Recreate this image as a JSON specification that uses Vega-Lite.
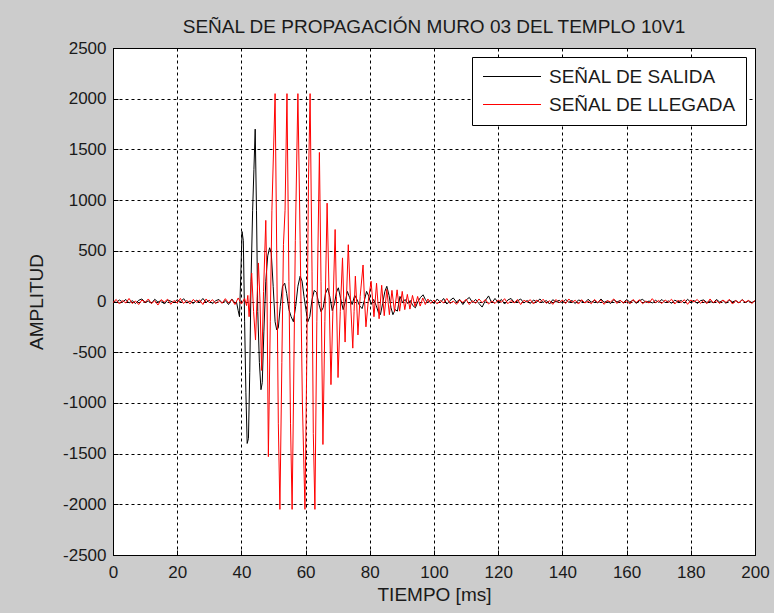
{
  "$schema": "https://vega.github.io/schema/vega-lite/v6.json",
  "width": 642,
  "height": 507,
  "autosize": "none",
  "padding": {"left": 113, "top": 48, "right": 19, "bottom": 58},
  "background": "#cccccc",
  "title": {"text": "SEÑAL DE PROPAGACIÓN MURO 03 DEL TEMPLO 10V1", "font": "Liberation Sans", "fontSize": 19, "fontWeight": "normal", "color": "#1a1a1a", "offset": 2, "anchor": "middle"},
  "config": {
    "view": {"fill": "white", "stroke": "black", "strokeWidth": 1},
    "axis": {"domain": false, "grid": true, "gridColor": "black", "gridDash": [3, 3], "gridOpacity": 1, "gridWidth": 1, "ticks": true, "tickColor": "black", "tickSize": -5, "labelFont": "Liberation Sans", "labelFontSize": 17, "labelColor": "#1a1a1a", "titleFont": "Liberation Sans", "titleFontSize": 19, "titleFontWeight": "normal", "titleColor": "#1a1a1a", "labelFlush": false, "labelOverlap": false, "labelExpr": "datum.value + ''"}
  },
  "layer": [
    {
      "data": {"values": [
        {"t":0,"a":5},{"t":1,"a":-10},{"t":2,"a":15},{"t":3,"a":-5},{"t":4,"a":20},{"t":5,"a":-15},{"t":6,"a":8},{"t":7,"a":-20},{"t":8,"a":12},{"t":9,"a":25},{"t":10,"a":-8},{"t":11,"a":5},{"t":12,"a":-18},{"t":13,"a":22},{"t":14,"a":-6},{"t":15,"a":10},{"t":16,"a":-25},{"t":17,"a":15},{"t":18,"a":3},{"t":19,"a":-12},{"t":20,"a":18},{"t":21,"a":-4},{"t":22,"a":28},{"t":23,"a":-15},{"t":24,"a":6},{"t":25,"a":-20},{"t":26,"a":14},{"t":27,"a":-8},{"t":28,"a":30},{"t":29,"a":-10},{"t":30,"a":12},{"t":31,"a":-22},{"t":32,"a":8},{"t":33,"a":20},{"t":34,"a":-14},{"t":35,"a":10},{"t":36,"a":-30},{"t":37,"a":25},{"t":38,"a":-15},
        {"t":38.5,"a":-10},{"t":39.0,"a":-90},{"t":39.4,"a":-150},{"t":39.8,"a":250},{"t":40.2,"a":690},{"t":40.6,"a":600},{"t":41.0,"a":-200},{"t":41.4,"a":-900},{"t":41.8,"a":-1400},{"t":42.2,"a":-1350},{"t":42.6,"a":-700},{"t":43.0,"a":200},{"t":43.5,"a":900},{"t":43.9,"a":1300},{"t":44.3,"a":1700},{"t":44.7,"a":900},{"t":45.1,"a":-100},{"t":45.6,"a":-600},{"t":46.1,"a":-870},{"t":46.5,"a":-800},{"t":47.0,"a":-300},{"t":47.6,"a":200},{"t":48.2,"a":450},{"t":48.8,"a":530},{"t":49.3,"a":480},{"t":49.9,"a":150},{"t":50.5,"a":-200},{"t":51.0,"a":-280},{"t":51.5,"a":-260},{"t":52.1,"a":-50},{"t":52.8,"a":150},{"t":53.5,"a":180},{"t":54.1,"a":80},{"t":54.8,"a":-80},{"t":55.5,"a":-150},{"t":56.2,"a":-200},{"t":56.9,"a":-50},{"t":57.6,"a":150},{"t":58.3,"a":250},{"t":58.9,"a":200},{"t":59.5,"a":50},{"t":60.1,"a":-80},{"t":60.7,"a":-200},{"t":61.3,"a":-150},{"t":62.0,"a":20},{"t":62.7,"a":110},{"t":63.4,"a":90},{"t":64.1,"a":-20},{"t":64.8,"a":-100},{"t":65.5,"a":-60},{"t":66.2,"a":80},{"t":66.9,"a":130},{"t":67.6,"a":40},{"t":68.3,"a":-90},{"t":69.0,"a":-20},{"t":69.6,"a":90},{"t":70.2,"a":135},{"t":70.9,"a":30},{"t":71.7,"a":-80},{"t":72.4,"a":0},{"t":73.0,"a":100},{"t":73.7,"a":40},{"t":74.5,"a":-30},{"t":75.3,"a":60},{"t":76.0,"a":20},{"t":76.8,"a":-40},{"t":77.6,"a":-70},{"t":78.3,"a":10},{"t":79.0,"a":100},{"t":79.7,"a":50},{"t":80.4,"a":-30},{"t":81.2,"a":20},{"t":82.0,"a":-40},{"t":82.7,"a":-110},{"t":83.3,"a":-130},{"t":84.0,"a":-20},{"t":84.7,"a":100},{"t":85.3,"a":150},{"t":86.0,"a":60},{"t":86.6,"a":-60},{"t":87.2,"a":-130},{"t":87.9,"a":-80},{"t":88.6,"a":-95},{"t":89.4,"a":50},{"t":90.2,"a":-10},{"t":91.0,"a":20},{"t":91.8,"a":-20},{"t":92.6,"a":10},{"t":93.4,"a":-40},{"t":94.2,"a":-62},{"t":95.0,"a":0},{"t":95.8,"a":40},{"t":96.6,"a":66},{"t":97.3,"a":20},{"t":98.0,"a":-10},{"t":99,"a":15},
        {"t":100,"a":-20},{"t":101,"a":25},{"t":102,"a":-10},{"t":103,"a":30},{"t":104,"a":-25},{"t":105,"a":10},{"t":106,"a":35},{"t":107,"a":-5},{"t":108,"a":20},{"t":109,"a":-30},{"t":110,"a":15},{"t":111,"a":40},{"t":112,"a":-10},{"t":113,"a":20},{"t":114,"a":-20},{"t":115,"a":-55},{"t":116,"a":10},{"t":117,"a":55},{"t":118,"a":-15},{"t":119,"a":30},{"t":120,"a":-10},{"t":121,"a":20},{"t":122,"a":-25},{"t":123,"a":15},{"t":124,"a":30},{"t":125,"a":-10},{"t":126,"a":5},{"t":127,"a":25},{"t":128,"a":-15},{"t":129,"a":10},{"t":130,"a":-20},{"t":131,"a":15},{"t":132,"a":-5},{"t":133,"a":25},{"t":134,"a":-10},{"t":135,"a":10},{"t":136,"a":-25},{"t":137,"a":18},{"t":138,"a":-5},{"t":139,"a":12},{"t":140,"a":-15},{"t":141,"a":20},{"t":142,"a":-8},{"t":143,"a":10},{"t":144,"a":-20},{"t":145,"a":15},{"t":146,"a":5},{"t":147,"a":-12},{"t":148,"a":22},{"t":149,"a":-6},{"t":150,"a":10},{"t":151,"a":-15},{"t":152,"a":25},{"t":153,"a":-8},{"t":154,"a":5},{"t":155,"a":-20},{"t":156,"a":18},{"t":157,"a":-5},{"t":158,"a":10},{"t":159,"a":-14},{"t":160,"a":20},{"t":161,"a":-6},{"t":162,"a":12},{"t":163,"a":-18},{"t":164,"a":8},{"t":165,"a":22},{"t":166,"a":-10},{"t":167,"a":5},{"t":168,"a":-15},{"t":169,"a":12},{"t":170,"a":-8},{"t":171,"a":20},{"t":172,"a":-12},{"t":173,"a":6},{"t":174,"a":-18},{"t":175,"a":14},{"t":176,"a":-4},{"t":177,"a":10},{"t":178,"a":-16},{"t":179,"a":22},{"t":180,"a":-8},{"t":181,"a":12},{"t":182,"a":-20},{"t":183,"a":8},{"t":184,"a":15},{"t":185,"a":-10},{"t":186,"a":5},{"t":187,"a":-14},{"t":188,"a":20},{"t":189,"a":-6},{"t":190,"a":10},{"t":191,"a":-18},{"t":192,"a":14},{"t":193,"a":-4},{"t":194,"a":8},{"t":195,"a":-12},{"t":196,"a":18},{"t":197,"a":-8},{"t":198,"a":6},{"t":199,"a":-10},{"t":200,"a":5}
      ]},
      "mark": {"type": "line", "strokeWidth": 1, "clip": true},
      "encoding": {
        "x": {"field": "t", "type": "quantitative", "scale": {"domain": [0, 200], "nice": false}, "axis": {"title": "TIEMPO [ms]", "values": [0,20,40,60,80,100,120,140,160,180,200], "labelPadding": 14, "titlePadding": 5}},
        "y": {"field": "a", "type": "quantitative", "scale": {"domain": [-2500, 2500], "nice": false}, "axis": {"title": "AMPLITUD", "values": [-2500,-2000,-1500,-1000,-500,0,500,1000,1500,2000,2500], "labelPadding": 12, "titlePadding": 16}},
        "color": {"datum": "SEÑAL DE SALIDA", "type": "nominal", "scale": {"domain": ["SEÑAL DE SALIDA", "SEÑAL DE LLEGADA"], "range": ["black", "#ff0000"]}, "legend": {"orient": "top-right", "offset": 9, "title": null, "symbolType": "stroke", "symbolSize": 3364, "symbolStrokeWidth": 1.2, "clipHeight": 19, "labelFont": "Liberation Sans", "labelFontSize": 19, "labelColor": "#1a1a1a", "labelOffset": 7, "fillColor": "white", "strokeColor": "black", "padding": 10, "rowPadding": 8, "labelLimit": 300}}
      }
    },
    {
      "data": {"values": [
        {"t":0,"a":-10},{"t":1,"a":20},{"t":2,"a":-25},{"t":3,"a":10},{"t":4,"a":-15},{"t":5,"a":30},{"t":6,"a":-20},{"t":7,"a":5},{"t":8,"a":-30},{"t":9,"a":15},{"t":10,"a":-10},{"t":11,"a":25},{"t":12,"a":-20},{"t":13,"a":8},{"t":14,"a":-35},{"t":15,"a":18},{"t":16,"a":-5},{"t":17,"a":22},{"t":18,"a":-28},{"t":19,"a":10},{"t":20,"a":-15},{"t":21,"a":30},{"t":22,"a":-20},{"t":23,"a":12},{"t":24,"a":-25},{"t":25,"a":20},{"t":26,"a":-8},{"t":27,"a":15},{"t":28,"a":-30},{"t":29,"a":25},{"t":30,"a":-12},{"t":31,"a":18},{"t":32,"a":-22},{"t":33,"a":10},{"t":34,"a":-18},{"t":35,"a":28},{"t":36,"a":-15},{"t":37,"a":20},{"t":38,"a":-30},{"t":39,"a":35},{"t":40,"a":-25},{"t":41,"a":30},{"t":41.6,"a":-40},
        {"t":42.0,"a":60},{"t":42.4,"a":-150},{"t":43.2,"a":280},{"t":43.8,"a":-100},{"t":44.4,"a":-380},{"t":44.9,"a":50},{"t":45.3,"a":380},{"t":45.8,"a":0},{"t":46.3,"a":-680},{"t":46.9,"a":100},{"t":47.6,"a":800},{"t":48.0,"a":0},{"t":48.4,"a":-1530},{"t":49.0,"a":-200},{"t":49.5,"a":900},{"t":50.5,"a":2050},{"t":51.0,"a":500},{"t":51.5,"a":-1200},{"t":52.0,"a":-2050},{"t":52.6,"a":-600},{"t":53.1,"a":560},{"t":53.6,"a":900},{"t":54.2,"a":2050},{"t":54.8,"a":200},{"t":55.3,"a":-1200},{"t":55.8,"a":-2050},{"t":56.2,"a":-1050},{"t":56.8,"a":600},{"t":57.6,"a":2050},{"t":58.3,"a":600},{"t":59.0,"a":-1000},{"t":59.8,"a":-2050},{"t":60.4,"a":-500},{"t":60.9,"a":1200},{"t":61.4,"a":2050},{"t":62.0,"a":300},{"t":62.4,"a":-1300},{"t":62.9,"a":-2050},{"t":63.5,"a":-200},{"t":64.3,"a":1470},{"t":64.8,"a":200},{"t":65.4,"a":-1410},{"t":66.0,"a":-200},{"t":66.7,"a":970},{"t":67.3,"a":100},{"t":67.9,"a":-820},{"t":68.5,"a":-100},{"t":69.2,"a":710},{"t":69.6,"a":50},{"t":70.1,"a":-750},{"t":70.8,"a":-100},{"t":71.5,"a":430},{"t":71.9,"a":0},{"t":72.3,"a":-400},{"t":72.8,"a":100},{"t":73.3,"a":560},{"t":74.0,"a":0},{"t":74.7,"a":-460},{"t":75.1,"a":-100},{"t":75.5,"a":250},{"t":75.9,"a":0},{"t":76.3,"a":-330},{"t":77.0,"a":50},{"t":77.9,"a":360},{"t":78.3,"a":50},{"t":78.8,"a":-250},{"t":79.5,"a":0},{"t":80.4,"a":200},{"t":81.3,"a":-150},{"t":82.1,"a":180},{"t":82.9,"a":-170},{"t":83.7,"a":160},{"t":84.5,"a":-140},{"t":85.3,"a":120},{"t":86.1,"a":-130},{"t":86.9,"a":110},{"t":87.7,"a":-100},{"t":88.5,"a":115},{"t":89.3,"a":-95},{"t":90.1,"a":100},{"t":90.9,"a":-80},{"t":91.7,"a":70},{"t":92.5,"a":-75},{"t":93.3,"a":60},{"t":94.1,"a":-50},{"t":94.9,"a":50},{"t":95.7,"a":-45},{"t":96.5,"a":35},{"t":97.3,"a":-30},{"t":98.1,"a":25},{"t":99,"a":-20},{"t":100,"a":15},
        {"t":101,"a":-25},{"t":102,"a":10},{"t":103,"a":-15},{"t":104,"a":30},{"t":105,"a":-20},{"t":106,"a":5},{"t":107,"a":-28},{"t":108,"a":15},{"t":109,"a":-10},{"t":110,"a":22},{"t":111,"a":-30},{"t":112,"a":8},{"t":113,"a":-18},{"t":114,"a":25},{"t":115,"a":-12},{"t":116,"a":20},{"t":117,"a":-25},{"t":118,"a":5},{"t":119,"a":-20},{"t":120,"a":15},{"t":121,"a":-8},{"t":122,"a":28},{"t":123,"a":-22},{"t":124,"a":10},{"t":125,"a":-15},{"t":126,"a":20},{"t":127,"a":-30},{"t":128,"a":12},{"t":129,"a":-5},{"t":130,"a":18},{"t":131,"a":-25},{"t":132,"a":15},{"t":133,"a":-10},{"t":134,"a":22},{"t":135,"a":-18},{"t":136,"a":8},{"t":137,"a":-28},{"t":138,"a":20},{"t":139,"a":-12},{"t":140,"a":15},{"t":141,"a":-20},{"t":142,"a":25},{"t":143,"a":-8},{"t":144,"a":12},{"t":145,"a":-25},{"t":146,"a":18},{"t":147,"a":-15},{"t":148,"a":5},{"t":149,"a":-22},{"t":150,"a":20},{"t":151,"a":-10},{"t":152,"a":15},{"t":153,"a":-28},{"t":154,"a":10},{"t":155,"a":-5},{"t":156,"a":25},{"t":157,"a":-20},{"t":158,"a":12},{"t":159,"a":-15},{"t":160,"a":8},{"t":161,"a":-25},{"t":162,"a":20},{"t":163,"a":-10},{"t":164,"a":18},{"t":165,"a":-22},{"t":166,"a":5},{"t":167,"a":-15},{"t":168,"a":28},{"t":169,"a":-12},{"t":170,"a":10},{"t":171,"a":-20},{"t":172,"a":15},{"t":173,"a":-8},{"t":174,"a":22},{"t":175,"a":-25},{"t":176,"a":12},{"t":177,"a":-10},{"t":178,"a":18},{"t":179,"a":-28},{"t":180,"a":15},{"t":181,"a":-5},{"t":182,"a":20},{"t":183,"a":-18},{"t":184,"a":10},{"t":185,"a":-22},{"t":186,"a":25},{"t":187,"a":-12},{"t":188,"a":8},{"t":189,"a":-20},{"t":190,"a":15},{"t":191,"a":-10},{"t":192,"a":22},{"t":193,"a":-25},{"t":194,"a":10},{"t":195,"a":-15},{"t":196,"a":18},{"t":197,"a":-8},{"t":198,"a":12},{"t":199,"a":-20},{"t":200,"a":10}
      ]},
      "mark": {"type": "line", "strokeWidth": 1, "clip": true},
      "encoding": {
        "x": {"field": "t", "type": "quantitative"},
        "y": {"field": "a", "type": "quantitative"},
        "color": {"datum": "SEÑAL DE LLEGADA", "type": "nominal"}
      }
    }
  ]
}
